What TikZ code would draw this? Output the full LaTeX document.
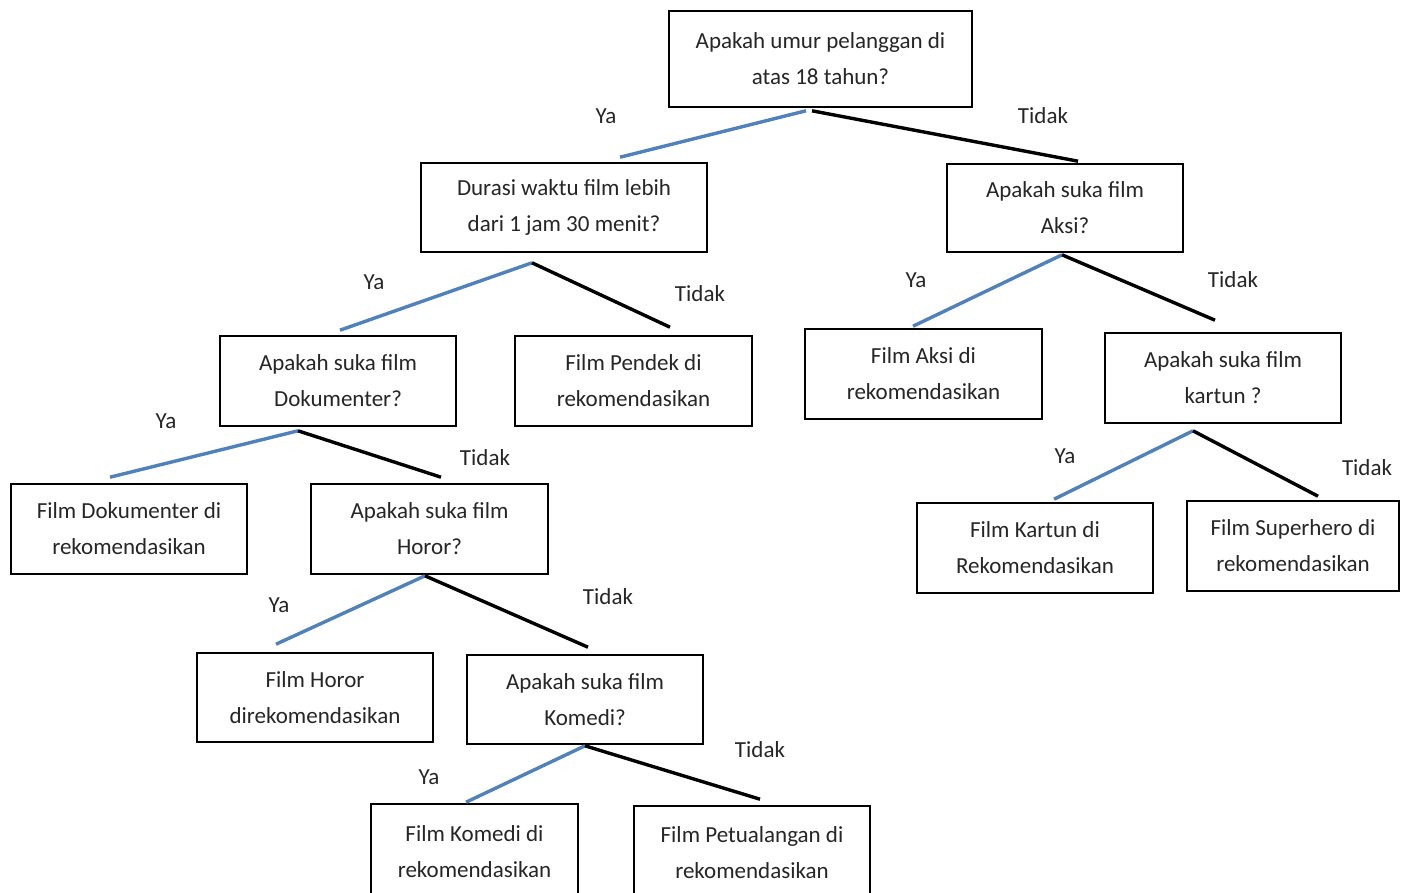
\documentclass[tikz,border=0pt]{standalone}
\usepackage{fontspec}
\setmainfont{Carlito}
\definecolor{yaline}{HTML}{4F81BD}
\begin{document}
\begin{tikzpicture}[x=1pt,y=-1pt,
  box/.style={draw=black, line width=1.6pt, rectangle, align=center, inner sep=0pt,
    font=\fontsize{23}{36}\selectfont, text=black!85},
  lbl/.style={font=\fontsize{23}{28}\selectfont, text=black!85, inner sep=0pt},
  yes/.style={draw=yaline, line width=3.4pt},
  no/.style={draw=black, line width=3.4pt}]
\useasboundingbox (0,0) rectangle (1412,893);
\begin{scope}
\clip (0,0) rectangle (1412,893);
\fill[white] (0,0) rectangle (1412,893);
% boxes
\node[box, minimum width=303, minimum height=96] (root) at (820.5,59) {Apakah umur pelanggan di\\atas 18 tahun?};
\node[box, minimum width=286, minimum height=89] (durasi) at (564,207.5) {Durasi waktu film lebih\\dari 1 jam 30 menit?};
\node[box, minimum width=236, minimum height=88] (aksiq) at (1065,208) {Apakah suka film\\Aksi?};
\node[box, minimum width=236, minimum height=90] (dokq) at (338,381) {Apakah suka film\\Dokumenter?};
\node[box, minimum width=237, minimum height=90] (pendek) at (633.5,381) {Film Pendek di\\rekomendasikan};
\node[box, minimum width=237, minimum height=90] (aksi) at (923.5,374) {Film Aksi di\\rekomendasikan};
\node[box, minimum width=236, minimum height=90] (kartunq) at (1223,378) {Apakah suka film\\kartun ?};
\node[box, minimum width=236, minimum height=90] (dok) at (129,529) {Film Dokumenter di\\rekomendasikan};
\node[box, minimum width=237, minimum height=90] (hororq) at (429.5,529) {Apakah suka film\\Horor?};
\node[box, minimum width=236, minimum height=90] (kartun) at (1035,548) {Film Kartun di\\Rekomendasikan};
\node[box, minimum width=212, minimum height=90] (superhero) at (1293,546) {Film Superhero di\\rekomendasikan};
\node[box, minimum width=236, minimum height=89] (horor) at (315,697.5) {Film Horor\\direkomendasikan};
\node[box, minimum width=236, minimum height=89] (komediq) at (585,699.5) {Apakah suka film\\Komedi?};
\node[box, minimum width=207, minimum height=96] (komedi) at (474.5,852) {Film Komedi di\\rekomendasikan};
\node[box, minimum width=236, minimum height=94] (petualangan) at (752,853) {Film Petualangan di\\rekomendasikan};
% connectors
\draw[yes] ([shift={(-14.5,3)}]root.south) -- ([shift={(56,-5)}]durasi.north);
\draw[no]  ([shift={(-8.5,3)}]root.south) -- ([shift={(13,-2)}]aksiq.north);
\draw[yes] ([shift={(-32,10)}]durasi.south) -- ([shift={(2,-5)}]dokq.north);
\draw[no]  ([shift={(-32,10)}]durasi.south) -- ([shift={(36.5,-8)}]pendek.north);
\draw[yes] ([shift={(-3,2)}]aksiq.south) -- ([shift={(-10.5,-2)}]aksi.north);
\draw[no]  ([shift={(-3,2)}]aksiq.south) -- ([shift={(-8,-12)}]kartunq.north);
\draw[yes] ([shift={(-40,4)}]dokq.south) -- ([shift={(-19,-6)}]dok.north);
\draw[no]  ([shift={(-40,4)}]dokq.south) -- ([shift={(11.5,-6)}]hororq.north);
\draw[yes] ([shift={(-4.5,1)}]hororq.south) -- ([shift={(-39,-8)}]horor.north);
\draw[no]  ([shift={(-4.5,1)}]hororq.south) -- ([shift={(3,-7)}]komediq.north);
\draw[yes] ([shift={(0,1)}]komediq.south) -- ([shift={(-8.5,-1)}]komedi.north);
\draw[no]  ([shift={(0,1)}]komediq.south) -- ([shift={(8,-6)}]petualangan.north);
\draw[yes] ([shift={(-30,7)}]kartunq.south) -- ([shift={(19,-3)}]kartun.north);
\draw[no]  ([shift={(-30,7)}]kartunq.south) -- ([shift={(25,-4)}]superhero.north);
% labels
\node[lbl] (l1) at (606,116) {Ya};
\node[lbl] (l2) at (1043,116) {Tidak};
\node[lbl] (l3) at (374,282) {Ya};
\node[lbl] (l4) at (700,294) {Tidak};
\node[lbl] (l5) at (916,280) {Ya};
\node[lbl] (l6) at (1233,280) {Tidak};
\node[lbl] (l7) at (166,421) {Ya};
\node[lbl] (l8) at (485,458) {Tidak};
\node[lbl] (l9) at (1065,456) {Ya};
\node[lbl] (l10) at (1367,468) {Tidak};
\node[lbl] (l11) at (279,605) {Ya};
\node[lbl] (l12) at (608,597) {Tidak};
\node[lbl] (l13) at (429,777) {Ya};
\node[lbl] (l14) at (760,750) {Tidak};
\end{scope}
\end{tikzpicture}
\end{document}
